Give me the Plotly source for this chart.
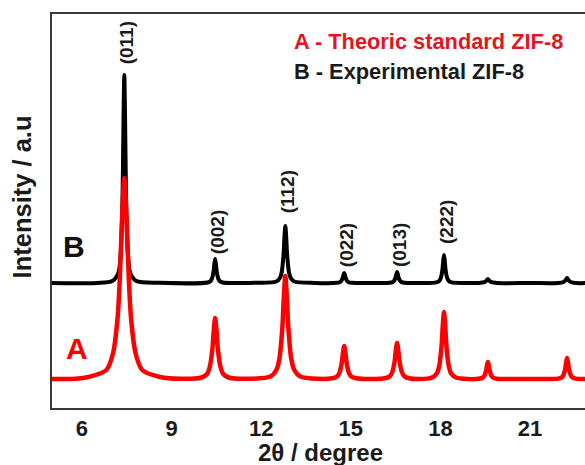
import plotly.graph_objects as go

# ---- data (2theta in degrees, intensity in a.u.) ----
a_x = [5.0, 5.8,
       6.22, 6.82, 7.045, 7.195, 7.27, 7.345, 7.42, 7.495, 7.57, 7.645, 7.795, 8.02, 8.62,
       9.3,
       10.01, 10.19, 10.28, 10.37, 10.415, 10.46, 10.505, 10.55, 10.64, 10.73, 10.91,
       11.6,
       12.31, 12.51, 12.61, 12.71, 12.76, 12.81, 12.86, 12.91, 13.01, 13.11, 13.31,
       13.9,
       14.38, 14.54, 14.62, 14.70, 14.74, 14.78, 14.82, 14.86, 14.94, 15.02, 15.18,
       15.7,
       16.15, 16.31, 16.39, 16.47, 16.51, 16.55, 16.59, 16.63, 16.71, 16.79, 16.95,
       17.3,
       17.72, 17.88, 17.96, 18.04, 18.08, 18.12, 18.16, 18.20, 18.28, 18.36, 18.52,
       18.9,
       19.29, 19.41, 19.47, 19.53, 19.56, 19.59, 19.62, 19.65, 19.71, 19.77, 19.89,
       20.9,
       21.94, 22.06, 22.12, 22.18, 22.21, 22.24, 22.27, 22.30, 22.36, 22.42, 22.54,
       23.0]
a_y = [29, 29.2,
       31, 38, 55, 90, 130, 190, 230, 190, 130, 90, 55, 38, 31,
       29.2,
       30.5, 34, 41, 59.5, 77.8, 90, 77.8, 59.5, 41, 34, 30.5,
       29.2,
       31.5, 38, 49, 80.5, 111.4, 132, 111.4, 80.5, 49, 38, 31.5,
       29.2,
       29.8, 31.5, 35, 45.5, 55.4, 62, 55.4, 45.5, 35, 31.5, 29.8,
       29,
       29.8, 31.8, 36, 47, 57.8, 65, 57.8, 47, 36, 31.8, 29.8,
       29,
       30.5, 34.5, 42, 62.5, 82.6, 96, 82.6, 62.5, 42, 34.5, 30.5,
       29,
       29.3, 30.3, 32.2, 37.5, 42.6, 46, 42.6, 37.5, 32.2, 30.3, 29.3,
       29,
       29.4, 30.6, 33, 39.5, 45.8, 50, 45.8, 39.5, 33, 30.6, 29.4,
       29]

b_x = [5.0, 6.5,
       7.02, 7.22, 7.295, 7.345, 7.37, 7.395, 7.42, 7.445, 7.47, 7.495, 7.545, 7.62, 7.82,
       8.6,
       10.21, 10.31, 10.36, 10.41, 10.435, 10.46, 10.485, 10.51, 10.56, 10.61, 10.71,
       11.6,
       12.51, 12.63, 12.69, 12.75, 12.78, 12.81, 12.84, 12.87, 12.93, 12.99, 13.11,
       13.8,
       14.53, 14.63, 14.68, 14.73, 14.755, 14.78, 14.805, 14.83, 14.88, 14.93, 15.03,
       15.7,
       16.30, 16.40, 16.45, 16.50, 16.525, 16.55, 16.575, 16.60, 16.65, 16.70, 16.80,
       17.3,
       17.87, 17.97, 18.02, 18.07, 18.095, 18.12, 18.145, 18.17, 18.22, 18.27, 18.37,
       18.9,
       19.29, 19.47, 19.53, 19.59, 19.65, 19.71, 19.89,
       21.0,
       21.94, 22.12, 22.18, 22.24, 22.30, 22.36, 22.54,
       23.0]
b_y = [125, 125.1,
       127, 135, 152, 189.1, 229, 291.4, 333, 291.4, 229, 189.1, 152, 135, 127,
       125.2,
       125.5, 127, 129.8, 137, 144.2, 149, 144.2, 137, 129.8, 127, 125.5,
       125.1,
       126.5, 130, 136, 153.5, 170.6, 182, 170.6, 153.5, 136, 130, 126.5,
       125.1,
       125.2, 125.8, 127, 130, 133, 135, 133, 130, 127, 125.8, 125.2,
       125,
       125.2, 125.9, 127.2, 130.5, 133.8, 136, 133.8, 130.5, 127.2, 125.9, 125.2,
       125,
       125.6, 127.4, 130.6, 139, 147.4, 153, 147.4, 139, 130.6, 127.4, 125.6,
       125,
       125, 125.8, 127, 129, 127, 125.8, 125,
       125,
       125, 126, 127.5, 130, 127.5, 126, 125,
       125]

peak_labels = ["(011)", "(002)", "(112)", "(022)", "(013)", "(222)"]
peak_label_x = [7.42, 10.46, 12.81, 14.78, 16.55, 18.12]
peak_label_y = [365, 176, 216, 163, 163, 186]

x_ticks = [6, 9, 12, 15, 18, 21]

RED = "#ff0000"
FONT = "Liberation Sans"

fig = go.Figure()
fig.add_trace(go.Scatter(x=b_x, y=b_y, mode="lines",
                         line=dict(color="#000000", width=4, shape="spline", smoothing=0.8),
                         name="B"))
fig.add_trace(go.Scatter(x=a_x, y=a_y, mode="lines",
                         line=dict(color=RED, width=4.5, shape="spline", smoothing=0.8),
                         name="A"))

for t, px, py in zip(peak_labels, peak_label_x, peak_label_y):
    fig.add_annotation(x=px, y=py, xref="x", yref="y", text=t, textangle=-90,
                       showarrow=False, xshift=2,
                       font=dict(family=FONT, size=19, color="#1a1a1a", weight="bold"))

# legend-like texts
fig.add_annotation(x=0.45, y=0.930, xref="paper", yref="paper",
                   text="A - Theoric standard ZIF-8", showarrow=False,
                   xanchor="left", yanchor="middle",
                   font=dict(family=FONT, size=21.8, color="#e3161e", weight="bold"))
fig.add_annotation(x=0.45, y=0.853, xref="paper", yref="paper",
                   text="B - Experimental ZIF-8", showarrow=False,
                   xanchor="left", yanchor="middle",
                   font=dict(family=FONT, size=21.8, color="#1a1a1a", weight="bold"))

# curve letters
fig.add_annotation(x=0.0413, y=0.411, xref="paper", yref="paper", text="B",
                   showarrow=False, xanchor="center", yanchor="middle",
                   font=dict(family=FONT, size=30, color="#111111", weight="bold"))
fig.add_annotation(x=0.0469, y=0.150, xref="paper", yref="paper", text="A",
                   showarrow=False, xanchor="center", yanchor="middle",
                   font=dict(family=FONT, size=30, color=RED, weight="bold"))

# axis titles
fig.add_annotation(x=0.503, y=-0.112, xref="paper", yref="paper",
                   text="2θ / degree", showarrow=False,
                   xanchor="center", yanchor="middle",
                   font=dict(family=FONT, size=24, color="#1a1a1a", weight="bold"))
fig.add_annotation(x=-0.0563, y=0.537, xref="paper", yref="paper",
                   text="Intensity / a.u", showarrow=False, textangle=-90,
                   xanchor="center", yanchor="middle",
                   font=dict(family=FONT, size=25.5, color="#1a1a1a", weight="bold"))

fig.update_layout(
    width=585, height=465,
    margin=dict(l=52, r=0, t=14, b=57),
    paper_bgcolor="white", plot_bgcolor="white",
    showlegend=False,
    font=dict(family=FONT),
)
fig.update_xaxes(range=[5, 22.84], tickvals=x_ticks,
                 ticktext=[str(v) for v in x_ticks],
                 showgrid=False, zeroline=False, ticks="",
                 showline=True, linecolor="#3a3a3a", linewidth=2, mirror=True,
                 tickfont=dict(family=FONT, size=22, color="#1a1a1a", weight="bold"))
fig.update_yaxes(range=[0, 394], showticklabels=False, showgrid=False,
                 zeroline=False, ticks="",
                 showline=True, linecolor="#3a3a3a", linewidth=2, mirror=False)

fig.write_html("out.html")
